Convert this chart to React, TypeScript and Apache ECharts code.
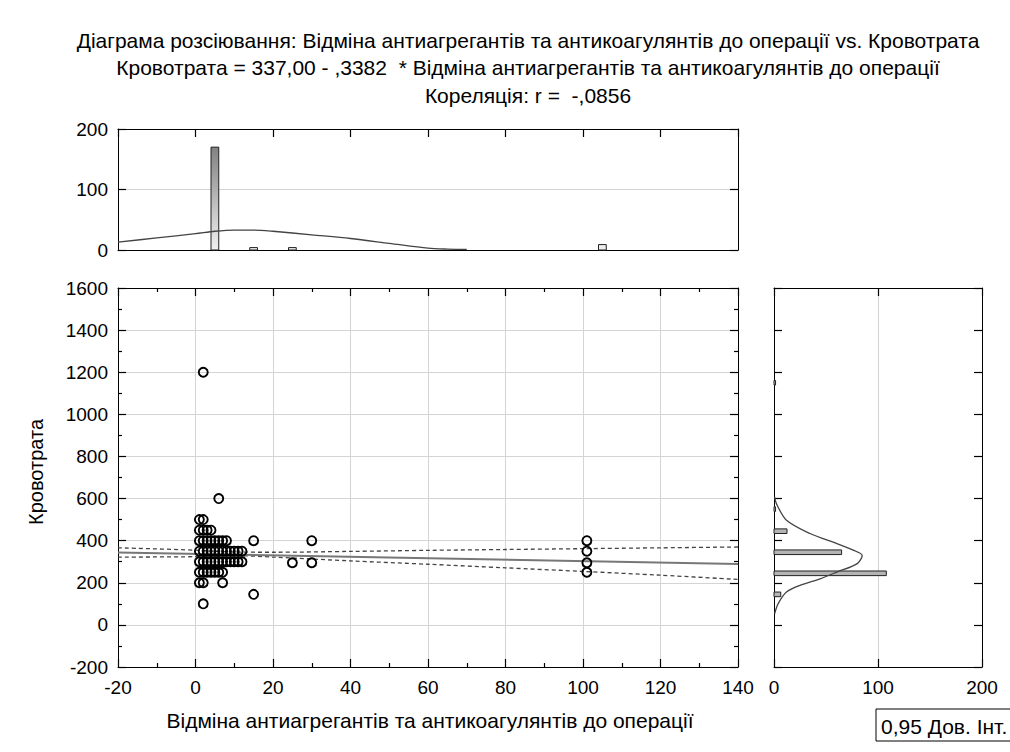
import React, { useEffect, useRef } from "react";
import * as echarts from "echarts";

const titleLines = [
  "Діаграма розсіювання: Відміна антиагрегантів та антикоагулянтів до операції vs. Кровотрата",
  "Кровотрата = 337,00 - ,3382  * Відміна антиагрегантів та антикоагулянтів до операції",
  "Кореляція: r =  -,0856",
];
const xName = "Відміна антиагрегантів та антикоагулянтів до операції";
const yName = "Кровотрата";
const legendText = "0,95 Дов. Інт.";

// scatter points [x, y]
const scatterX = [
  1, 2,
  1, 2, 3, 4,
  1, 2, 3, 4, 5, 6, 7, 8, 15, 30, 101,
  1, 2, 3, 4, 5, 6, 7, 8, 9, 10, 11, 12, 101,
  1, 2, 3, 4, 5, 6, 7, 8, 9, 10, 11, 12, 25, 30, 101,
  1, 2, 3, 4, 5, 6, 7, 101,
  1, 2, 7,
  15, 2, 6, 2,
];
const scatterY = [
  500, 500,
  450, 450, 450, 450,
  400, 400, 400, 400, 400, 400, 400, 400, 400, 400, 400,
  350, 350, 350, 350, 350, 350, 350, 350, 350, 350, 350, 350, 350,
  300, 300, 300, 300, 300, 300, 300, 300, 300, 300, 300, 300, 295, 295, 295,
  250, 250, 250, 250, 250, 250, 250, 250,
  200, 200, 200,
  145, 100, 600, 1200,
];

// regression line and 0.95 confidence band
const regX = [-20, 140];
const regY = [343.8, 289.7];
const ciX = [-20, 0, 10, 20, 40, 60, 80, 100, 120, 140];
const ciUpper = [366, 355, 346, 345, 349, 354, 358, 362, 366, 370];
const ciLower = [322, 324, 329, 322, 304, 288, 271, 254, 236, 216];

// top histogram (x variable)
const topBinX = [5, 15, 25, 105];
const topCounts = [170, 4, 4, 9];
const topCurveX = [-20, -10, 0, 5, 10, 15, 20, 30, 40, 50, 60, 65, 70];
const topCurveY = [13, 20, 27, 31, 33, 33, 31, 25, 19, 11, 3, 1.5, 1];

// right histogram (y variable)
const rightBinY = [145, 245, 345, 445, 550, 1150];
const rightCounts = [6.5, 108, 65, 12.5, 1.5, 1.5];
const rightCurveCount = [0.6, 2.3, 12, 34.6, 60.5, 76.7, 84.8, 80, 60.5, 44.3, 25, 12, 3.9, 0.6];
const rightCurveY = [608, 576, 497, 434, 386, 354, 330, 291, 251, 219, 188, 156, 100, 53];

const FONT = "Liberation Sans";
const labelStyle = { color: "#000", fontSize: 19, fontFamily: FONT, formatter: (v: number) => String(v) };
const gridLine = { lineStyle: { color: "#d4d4d4", width: 1 } };
const axisLine = () => ({ show: true, onZero: false, lineStyle: { color: "#000", width: 1 } });
const tick = () => ({ show: true, inside: true, length: 8, lineStyle: { color: "#000", width: 1.2 } });
const minor = () => ({ show: true, splitNumber: 2, length: 4, lineStyle: { color: "#000", width: 1.2 } });

function tickAxis(extra: any) {
  return {
    type: "value",
    axisLine: axisLine(),
    axisLabel: { show: false },
    splitLine: { show: false },
    axisTick: tick(),
    ...extra,
  };
}

export default function App() {
  const ref = useRef<HTMLDivElement>(null);
  useEffect(() => {
    if (!ref.current) return;
    const chart = echarts.init(ref.current, undefined, { renderer: "svg" });

    const mainL = 118, mainT = 288, mainW = 620, mainH = 379;
    const topT = 129, topH = 121;
    const rightL = 774, rightW = 208;

    const topGrad = new echarts.graphic.LinearGradient(0, topT, 0, topT + topH, [
      { offset: 0, color: "#6e6e6e" },
      { offset: 1, color: "#f0f0f0" },
    ], true);

    const titleFont = `21px "${FONT}"`;

    const option: any = {
      animation: false,
      backgroundColor: "#fff",
      grid: [
        { left: mainL, top: topT, width: mainW, height: topH, show: false },
        { left: mainL, top: mainT, width: mainW, height: mainH, show: false },
        { left: rightL, top: mainT, width: rightW, height: mainH, show: false },
      ],
      xAxis: [
        tickAxis({ gridIndex: 0, position: "top", min: -20, max: 140, interval: 20 }),
        {
          type: "value", gridIndex: 1, position: "bottom", min: -20, max: 140, interval: 20,
          axisLine: axisLine(),
          axisLabel: { ...labelStyle, margin: 11 },
          axisTick: tick(),
          minorTick: minor(),
          splitLine: { show: true, ...gridLine },
        },
        tickAxis({ gridIndex: 1, position: "top", min: -20, max: 140, interval: 20, minorTick: minor() }),
        {
          type: "value", gridIndex: 2, position: "bottom", min: 0, max: 200, interval: 100,
          axisLine: axisLine(),
          axisLabel: { ...labelStyle, margin: 11 },
          axisTick: tick(),
          splitLine: { show: true, ...gridLine },
        },
        tickAxis({ gridIndex: 2, position: "top", min: 0, max: 200, interval: 100 }),
        tickAxis({ gridIndex: 0, position: "bottom", min: -20, max: 140, interval: 20, axisTick: { show: false } }),
      ],
      yAxis: [
        {
          type: "value", gridIndex: 0, position: "left", min: 0, max: 200, interval: 100,
          axisLine: axisLine(),
          axisLabel: { ...labelStyle, margin: 10 },
          axisTick: tick(),
          splitLine: { show: true, ...gridLine },
        },
        tickAxis({ gridIndex: 0, position: "right", min: 0, max: 200, interval: 100 }),
        {
          type: "value", gridIndex: 1, position: "left", min: -200, max: 1600, interval: 200,
          axisLine: axisLine(),
          axisLabel: { ...labelStyle, margin: 10 },
          axisTick: tick(),
          minorTick: minor(),
          splitLine: { show: true, ...gridLine },
        },
        tickAxis({ gridIndex: 1, position: "right", min: -200, max: 1600, interval: 200, minorTick: minor() }),
        tickAxis({ gridIndex: 2, position: "left", min: -200, max: 1600, interval: 200 }),
        tickAxis({ gridIndex: 2, position: "right", min: -200, max: 1600, interval: 200 }),
      ],
      series: [
        {
          type: "custom", xAxisIndex: 0, yAxisIndex: 0,
          data: topBinX.map((x, i) => [x, topCounts[i]]),
          encode: { x: 0, y: 1 },
          renderItem: (params: any, api: any) => {
            const x = api.value(0), h = api.value(1);
            const p0 = api.coord([x - 1, h]);
            const p1 = api.coord([x + 1, 0]);
            return {
              type: "rect",
              shape: { x: p0[0], y: p0[1], width: p1[0] - p0[0], height: p1[1] - p0[1] },
              style: { fill: topGrad, stroke: "#222", lineWidth: 1 },
            };
          },
          z: 3,
        },
        {
          type: "line", xAxisIndex: 0, yAxisIndex: 0, smooth: 0.3, symbol: "none",
          data: topCurveX.map((x, i) => [x, topCurveY[i]]),
          lineStyle: { color: "#444", width: 1.3 }, z: 4,
        },
        {
          type: "line", xAxisIndex: 1, yAxisIndex: 2, symbol: "none", smooth: 0.3,
          data: ciX.map((x, i) => [x, ciUpper[i]]),
          lineStyle: { color: "#444", width: 1.3, type: [4, 3] }, z: 3,
        },
        {
          type: "line", xAxisIndex: 1, yAxisIndex: 2, symbol: "none", smooth: 0.3,
          data: ciX.map((x, i) => [x, ciLower[i]]),
          lineStyle: { color: "#444", width: 1.3, type: [4, 3] }, z: 3,
        },
        {
          type: "line", xAxisIndex: 1, yAxisIndex: 2, symbol: "none",
          data: regX.map((x, i) => [x, regY[i]]),
          lineStyle: { color: "#777", width: 2 }, z: 3,
        },
        {
          type: "scatter", xAxisIndex: 1, yAxisIndex: 2, symbol: "circle", symbolSize: 9,
          data: scatterX.map((x, i) => [x, scatterY[i]]),
          itemStyle: { color: "rgba(255,255,255,0)", borderColor: "#000", borderWidth: 1.9, opacity: 1 },
          z: 5,
        },
        {
          type: "custom", xAxisIndex: 3, yAxisIndex: 4,
          data: rightBinY.map((y, i) => [rightCounts[i], y]),
          encode: { x: 0, y: 1 },
          renderItem: (params: any, api: any) => {
            const c = api.value(0), y = api.value(1);
            const p0 = api.coord([0, y + 11]);
            const p1 = api.coord([c, y - 11]);
            return {
              type: "rect",
              shape: { x: p0[0], y: p0[1], width: p1[0] - p0[0], height: p1[1] - p0[1] },
              style: { fill: "#b4b4b4", stroke: "#222", lineWidth: 1 },
            };
          },
          z: 3,
        },
        {
          type: "line", xAxisIndex: 3, yAxisIndex: 4, smooth: 0.3, symbol: "none",
          data: rightCurveCount.map((c, i) => [c, rightCurveY[i]]),
          lineStyle: { color: "#444", width: 1.3 }, z: 4,
        },
      ],
      graphic: [
        ...titleLines.map((t, i) => ({
          type: "text", x: 528, y: 40 + i * 27.5,
          style: { text: t, fill: "#000", font: titleFont, align: "center", verticalAlign: "middle" },
        })),
        {
          type: "text", x: 430, y: 720,
          style: { text: xName, fill: "#000", font: titleFont, align: "center", verticalAlign: "middle" },
        },
        {
          type: "text", x: 36, y: 472, rotation: Math.PI / 2,
          style: { text: yName, fill: "#000", font: `20px "${FONT}"`, align: "center", verticalAlign: "middle" },
        },
        {
          type: "rect", shape: { x: 876, y: 709, width: 140, height: 32 },
          style: { fill: "#fff", stroke: "#000", lineWidth: 1 },
        },
        {
          type: "text", x: 881, y: 726,
          style: { text: legendText, fill: "#000", font: titleFont, align: "left", verticalAlign: "middle" },
        },
      ],
    };
    chart.setOption(option);
    return () => chart.dispose();
  }, []);
  return <div ref={ref} style={{ position: "absolute", left: 0, top: 0, width: 1010, height: 752 }} />;
}
